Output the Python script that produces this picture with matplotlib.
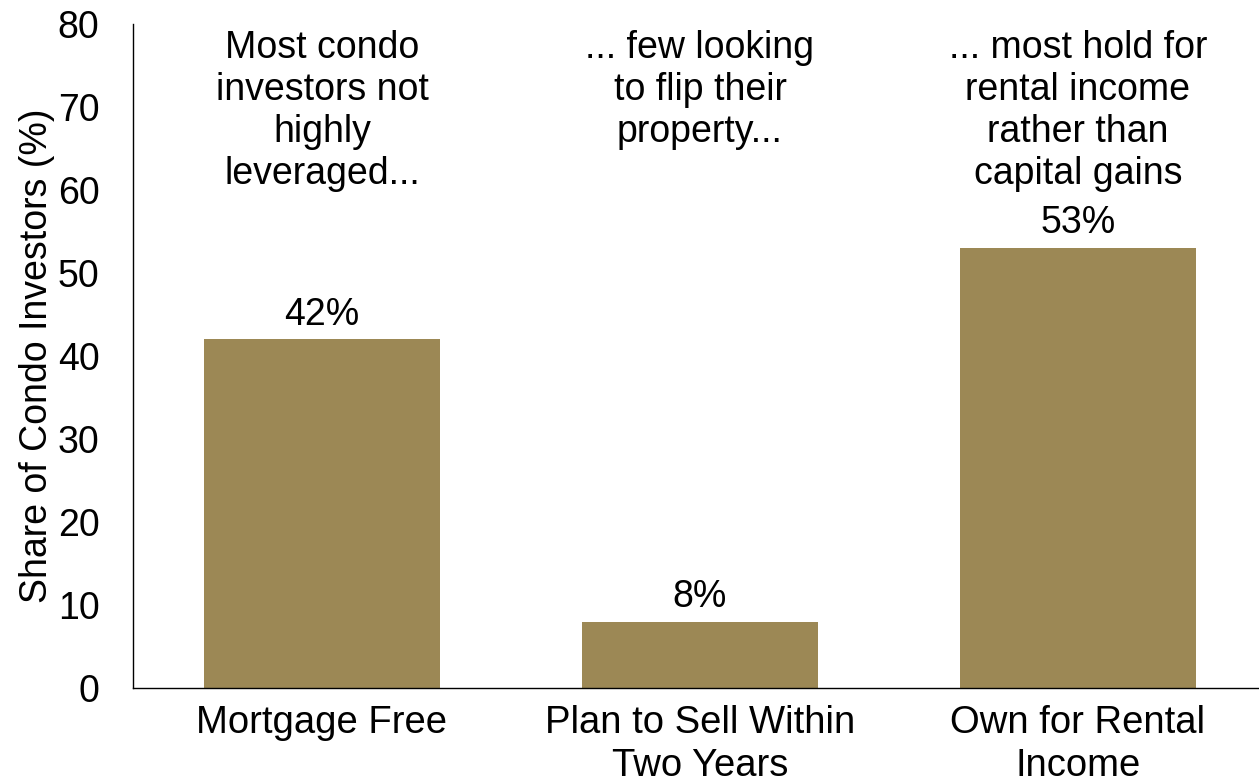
import matplotlib
matplotlib.use("Agg")
import matplotlib.pyplot as plt

plt.rcParams["font.family"] = ["Liberation Sans", "DejaVu Sans"]

# survey results
categories = ["Mortgage Free", "Plan to Sell Within\nTwo Years", "Own for Rental\nIncome"]
shares = [42, 8, 53]
notes = [
    "Most condo\ninvestors not\nhighly\nleveraged...",
    "... few looking\nto flip their\nproperty...",
    "... most hold for\nrental income\nrather than\ncapital gains",
]

bar_color = "#9C8855"

fig = plt.figure(figsize=(12.59, 7.81), dpi=100)
ax = fig.add_axes([0.1056, 0.119, 0.9007, 0.8502])

x = range(len(categories))
ax.bar(x, shares, width=0.625, color=bar_color)

# value labels over each bar
for xi, v in zip(x, shares):
    ax.annotate(f"{v}%", (xi, v), xytext=(0, 5), textcoords="offset points",
                ha="center", va="bottom", fontsize=27)

# commentary text across the top
for xi, note in zip(x, notes):
    ax.text(xi, 79.3, note, ha="center", va="top", fontsize=27, linespacing=1.22)

ax.set_xlim(-0.5, 2.5)
ax.set_ylim(0, 80)
ax.set_yticks(range(0, 81, 10))
ax.set_xticks(list(x), categories)

ax.set_ylabel("Share of Condo Investors (%)", fontsize=27, labelpad=2)
ax.spines[["top", "right"]].set_visible(False)
ax.spines[["left", "bottom"]].set_linewidth(1.0)
ax.tick_params(axis="y", length=0, labelsize=27, pad=24)
ax.tick_params(axis="x", length=0, labelsize=27.5, pad=12)
for lbl in ax.get_xticklabels():
    lbl.set_linespacing(1.25)

fig.savefig("out.png", dpi=100)
